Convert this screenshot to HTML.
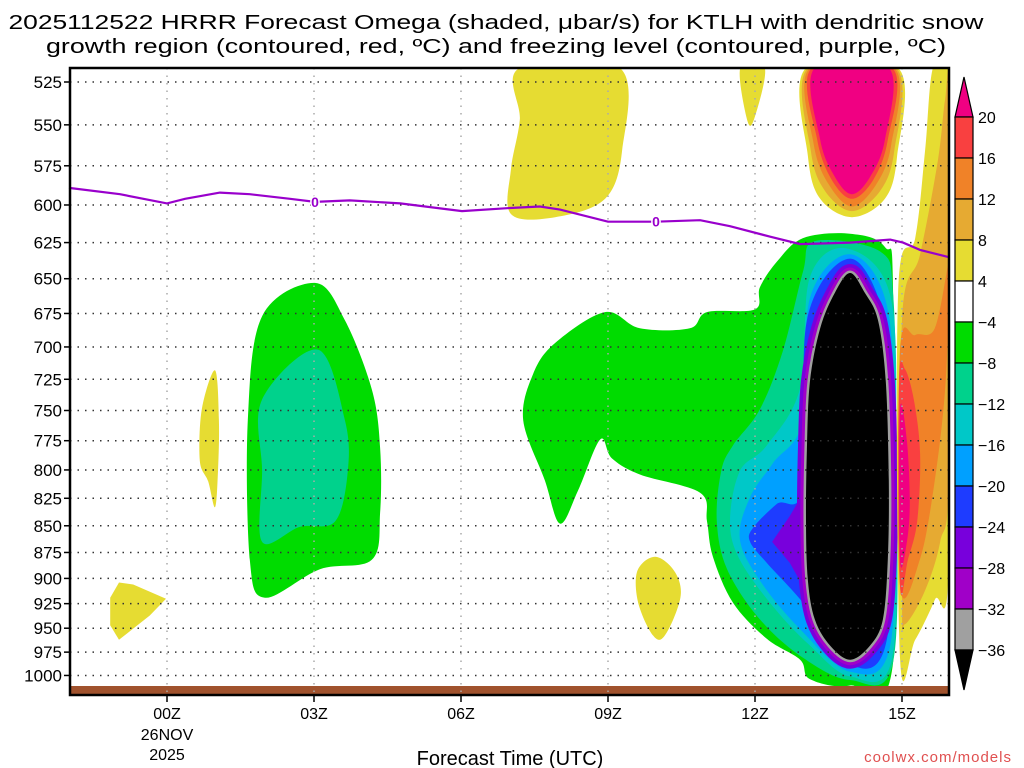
<!DOCTYPE html>
<html><head><meta charset="utf-8"><style>
html,body{margin:0;padding:0;background:#fff}
svg{display:block}
text{font-family:"Liberation Sans",sans-serif;fill:#000}
</style></head><body>
<svg id="chart" width="1024" height="768" viewBox="0 0 1024 768" xmlns="http://www.w3.org/2000/svg">
<rect x="0" y="0" width="1024" height="768" fill="#fff"/>
<text x="496" y="29" font-size="20" text-anchor="middle" textLength="975" lengthAdjust="spacingAndGlyphs">2025112522 HRRR Forecast Omega (shaded, μbar/s) for KTLH with dendritic snow</text>
<text x="496" y="53" font-size="20" text-anchor="middle" textLength="900" lengthAdjust="spacingAndGlyphs">growth region (contoured, red, ºC) and freezing level (contoured, purple, ºC)</text>
<g id="shapes"></g>
<g id="grid"></g>
<g id="lines"></g>
<g id="axes"></g>
<g id="cbar"></g>
<text x="510" y="765" font-size="20" text-anchor="middle">Forecast Time (UTC)</text>
<text x="1012" y="762" font-size="15" text-anchor="end" style="fill:#e05050" letter-spacing="1">coolwx.com/models</text>
</svg>
<script>
// ---- axis data ----
const pressureTicks = [525,550,575,600,625,650,675,700,725,750,775,800,825,850,875,900,925,950,975,1000];
const hourTicks = [0,3,6,9,12,15];
const hourLabels = ["00Z","03Z","06Z","09Z","12Z","15Z"];
const cbarLevels = ["20","16","12","8","4","−4","−8","−12","−16","−20","−24","−28","−32","−36"];
const cbarColors = ["#f94040","#f08228","#e6aa32","#e6dc32","#ffffff","#00dc00","#00d28c","#00c8c8","#00a0ff","#1e3cff","#7800dc","#a000c8","#a0a0a0"];
// ---- freezing level (hour, hPa) ----
const fzHours = [-2,-0.96,0,0.37,1.08,1.69,2.51,3.02,3.73,4.76,6.02,7.0,7.61,8.02,9.0,9.98,10.88,11.49,12.31,12.92,13.94,14.76,15.02,15.37,15.96];
const fzPres  = [589,593,599,596,592,593,596,598,597,599,604,602,601,603,611,611,610,614,621,626,625,623,625,630,635];
// ---- omega shaded regions: [hour, hPa] ----
const yellowTop = [[7.2,517],[9.24,517],[9.29,565],[8.94,596],[7.92,608],[7.02,606],[7.02,577],[7.2,547]];
const yellowTop12 = [[11.7,517],[12.2,517],[12.0,545],[11.85,548]];
const yellowLeft = [[0.98,718],[1.06,758],[1.04,801],[0.98,833],[0.84,810],[0.67,792],[0.71,749]];
const yellowLL = [[-0.98,904],[-0.69,906],[-0.02,920],[-0.35,937],[-0.98,962],[-1.16,947],[-1.16,919]];
const yellow10 = [[9.96,879],[10.37,894],[10.47,921],[10.06,962],[9.65,930],[9.59,894]];
const greenLeft = [[1.94,677],[3.02,653],[3.63,680],[4.18,733],[4.35,781],[4.35,838],[4.18,882],[3.12,891],[2.0,919],[1.69,882],[1.65,758]];
const tealLeft = [[1.94,741],[3.08,702],[3.63,758],[3.69,801],[3.43,846],[2.71,851],[1.94,865],[1.94,801]];
const greenMid = [[7.27,758],[7.47,721],[7.92,697],[8.94,674],[9.65,686],[10.67,686],[11.02,674],[12.0,672],[12.1,656],[12.45,638],[12.98,622],[13.94,619],[14.65,628],[14.82,662],[14.82,985],[13.94,1011],[13.12,1004],[12.92,983],[12.24,961],[11.55,924],[11.14,879],[11.02,846],[10.88,820],[9.65,804],[9.08,790],[8.84,774],[8.39,818],[8.02,848],[7.71,809]];
const tealMid = [[13.22,624],[12.98,645],[12.57,703],[12.1,749],[11.55,779],[11.31,801],[11.22,846],[11.43,891],[12.1,941],[12.98,981],[13.94,1005],[14.82,985],[14.88,782],[14.82,662],[14.55,631]];
const cyanMid = [[13.88,629],[13.12,649],[12.92,732],[12.24,779],[11.69,801],[11.49,846],[11.69,882],[12.37,928],[13.12,968],[13.94,1001],[14.8,981],[14.88,782],[14.76,662]];
const ltblueMid = [[13.94,633],[13.12,664],[12.98,758],[12.37,794],[11.9,824],[11.69,862],[12.1,902],[12.92,951],[13.94,996],[14.76,968],[14.86,782],[14.69,669]];
const blueMid = [[13.94,636],[13.06,680],[12.98,815],[12.45,830],[11.96,852],[11.9,865],[12.24,885],[12.98,924],[13.94,988],[14.69,962],[14.82,782],[14.65,680]];
const purpleWedge = [[13.1,812],[12.71,841],[12.35,865],[12.71,885],[13.1,918]];
const coreMid = [[13.94,646],[13.63,660],[13.33,686],[13.12,727],[13.06,782],[13.04,846],[13.08,902],[13.22,941],[13.53,968],[13.94,983],[14.35,968],[14.61,941],[14.71,882],[14.73,809],[14.67,727],[14.51,680],[14.24,660]];
const yellowR = [[15.63,517],[15.96,517],[15.96,882],[15.67,921],[15.27,962],[14.96,981],[14.92,660],[15.27,622],[15.47,566]];
const goldR = [[15.88,535],[15.96,535],[15.96,801],[15.78,865],[15.47,912],[15.06,946],[15.0,921],[15.0,680],[15.37,633],[15.73,572]];
const orangeR = [[15.27,691],[14.96,702],[14.96,907],[15.37,881],[15.67,809],[15.88,733],[15.96,662],[15.96,638],[15.67,686]];
const redR = [[15.06,717],[15.24,741],[15.37,786],[15.31,846],[15.12,882],[14.96,907],[14.94,727]];
const pinkR = [[14.96,749],[15.1,775],[15.16,828],[15.1,865],[14.96,882]];
const yellowU = [[13.04,517],[14.92,517],[14.9,569],[14.65,596],[13.98,608],[13.33,596],[13.08,569]];
const goldU = [[13.08,517],[14.88,517],[14.84,566],[14.55,591],[13.98,604],[13.43,591],[13.14,566]];
const orangeU = [[13.12,517],[14.84,517],[14.78,562],[14.47,587],[13.98,601],[13.51,587],[13.2,562]];
const redU = [[13.16,517],[14.8,517],[14.71,559],[14.41,584],[13.98,596],[13.57,584],[13.27,559]];
const pinkU = [[13.22,517],[14.73,517],[14.65,559],[14.35,582],[13.98,593],[13.63,582],[13.33,559]];

// ---- axis functions ----
const X0=70, X1=949, Y0=68, Y1=695;
function xs(h){return 167 + h*49;}
function ys(p){return 82 + 921*Math.log(p/525);}
const NS="http://www.w3.org/2000/svg";
function mk(tag,attrs,parent){const e=document.createElementNS(NS,tag);for(const k in attrs)e.setAttribute(k,attrs[k]);parent.appendChild(e);return e;}
function smoothPath(pts){
  const P=pts.map(d=>[xs(d[0]),ys(d[1])]);const n=P.length;let s="M"+P[0][0].toFixed(1)+","+P[0][1].toFixed(1);
  for(let i=0;i<n;i++){const p0=P[(i-1+n)%n],p1=P[i],p2=P[(i+1)%n],p3=P[(i+2)%n];
    const c1=[p1[0]+(p2[0]-p0[0])/6,p1[1]+(p2[1]-p0[1])/6],c2=[p2[0]-(p3[0]-p1[0])/6,p2[1]-(p3[1]-p1[1])/6];
    s+="C"+c1[0].toFixed(1)+","+c1[1].toFixed(1)+" "+c2[0].toFixed(1)+","+c2[1].toFixed(1)+" "+p2[0].toFixed(1)+","+p2[1].toFixed(1);}
  return s+"Z";}
function linePath(pts){return pts.map((d,i)=>(i?"L":"M")+xs(d[0]).toFixed(1)+","+ys(d[1]).toFixed(1)).join("")+"Z";}
const svg=document.getElementById('chart');
const defs=mk('defs',{},svg);
const cp=mk('clipPath',{id:'plotclip'},defs);
mk('rect',{x:X0,y:Y0,width:X1-X0,height:Y1-Y0},cp);
const G=document.getElementById('shapes');G.setAttribute('clip-path','url(#plotclip)');
function region(pts,color,name,straight){const e=mk('path',{d:straight?linePath(pts):smoothPath(pts),fill:color},G);


return e;}
region(yellowTop,"#e6dc32","yellow-region-07z");
region(yellowTop12,"#e6dc32","yellow-region-12z-top");
region(yellowLeft,"#e6dc32","yellow-region-01z");
region(yellowLL,"#e6dc32","yellow-region-23z",true);
region(yellow10,"#e6dc32","yellow-region-10z");
region(greenLeft,"#00dc00","green-region-03z");
region(tealLeft,"#00d28c","teal-region-03z");
region(greenMid,"#00dc00","green-region-12z");
region(tealMid,"#00d28c","teal-region-13z");
region(cyanMid,"#00c8c8","cyan-region-13z");
region(ltblueMid,"#00a0ff","lightblue-region-13z");
region(blueMid,"#1e3cff","blue-region-13z");
region(purpleWedge,"#7800dc","purple-wedge-13z",true);
const r1=region(coreMid,"none","purple-ring");r1.setAttribute('stroke','#7800dc');r1.setAttribute('stroke-width','18');
const r2=region(coreMid,"none","magenta-ring");r2.setAttribute('stroke','#a000c8');r2.setAttribute('stroke-width','11');
const r3=region(coreMid,"none","gray-ring");r3.setAttribute('stroke','#a0a0a0');r3.setAttribute('stroke-width','5');
region(coreMid,"#000000","black-core-14z");
region(yellowR,"#e6dc32","yellow-region-15z");
region(goldR,"#e6aa32","gold-region-15z");
region(orangeR,"#f08228","orange-region-15z");
region(redR,"#f94040","red-region-15z");
region(pinkR,"#f00082","pink-region-15z");
region(yellowU,"#e6dc32","yellow-region-14z-top");
region(goldU,"#e6aa32","gold-region-14z-top");
region(orangeU,"#f08228","orange-region-14z-top");
region(redU,"#f94040","red-region-14z-top");
region(pinkU,"#f00082","pink-region-14z-top");
// ground
const gr=mk('rect',{x:X0,y:686,width:X1-X0,height:9,fill:"#a0522d"},G);



// grid
const GG=document.getElementById('grid');
pressureTicks.forEach(p=>{const l=mk('line',{x1:X0,x2:X1,y1:ys(p),y2:ys(p),stroke:"#333","stroke-width":1.5,"stroke-dasharray":"1.5 6"},GG);

});
hourTicks.forEach(h=>{const l=mk('line',{x1:xs(h),x2:xs(h),y1:Y0,y2:Y1,stroke:"#aaa","stroke-width":1.5,"stroke-dasharray":"1.5 6"},GG);

});

// freezing line
const L=document.getElementById('lines');
let d="";fzHours.forEach((h,i)=>{d+=(i?"L":"M")+xs(h).toFixed(1)+","+ys(fzPres[i]).toFixed(1);});
const fl=mk('path',{d:d,fill:"none",stroke:"#9900cc","stroke-width":2.2},L);


[3.02,9.98].forEach(h=>{let i=fzHours.findIndex(v=>v>=h);const p=fzPres[i];
const t=mk('text',{x:xs(h),y:ys(p)+5,"font-size":14,"text-anchor":"middle",style:"fill:#9900cc;font-weight:bold",stroke:"#fff","stroke-width":3,"paint-order":"stroke"},L);t.textContent="0";

});

// axes
const A=document.getElementById('axes');
const fr=mk('rect',{x:X0,y:Y0,width:X1-X0,height:Y1-Y0,fill:"none",stroke:"#000","stroke-width":2.5},A);


pressureTicks.forEach(p=>{mk('line',{x1:X0-6,x2:X0,y1:ys(p),y2:ys(p),stroke:"#000","stroke-width":1.5},A);
const t=mk('text',{x:X0-8,y:ys(p)+6,"font-size":17,"text-anchor":"end"},A);t.textContent=String(p);

});
hourTicks.forEach((h,i)=>{mk('line',{x1:xs(h),x2:xs(h),y1:Y1,y2:Y1+7,stroke:"#000","stroke-width":1.5},A);
const t=mk('text',{x:xs(h),y:Y1+24,"font-size":16,"text-anchor":"middle"},A);t.textContent=hourLabels[i];

});
["26NOV","2025"].forEach((s,i)=>{const t=mk('text',{x:xs(0),y:Y1+45+i*20,"font-size":16,"text-anchor":"middle"},A);t.textContent=s;

});

// colorbar
const C=document.getElementById('cbar');
const cx0=955,cx1=973,cTop=117,cStep=41;
mk('path',{d:`M${cx0},${cTop} L${(cx0+cx1)/2},${cTop-40} L${cx1},${cTop} Z`,fill:"#f00082",stroke:"#000","stroke-width":1.2},C);
cbarColors.forEach((c,i)=>{const r=mk('rect',{x:cx0,y:cTop+i*cStep,width:cx1-cx0,height:cStep,fill:c,stroke:"#000","stroke-width":1.2},C);

});
const bot=cTop+cbarColors.length*cStep;
mk('path',{d:`M${cx0},${bot} L${(cx0+cx1)/2},${bot+40} L${cx1},${bot} Z`,fill:"#000",stroke:"#000","stroke-width":1.2},C);
cbarLevels.forEach((s,i)=>{const t=mk('text',{x:978,y:cTop+i*cStep+6,"font-size":16},C);t.textContent=s;

});
</script>
</body></html>
